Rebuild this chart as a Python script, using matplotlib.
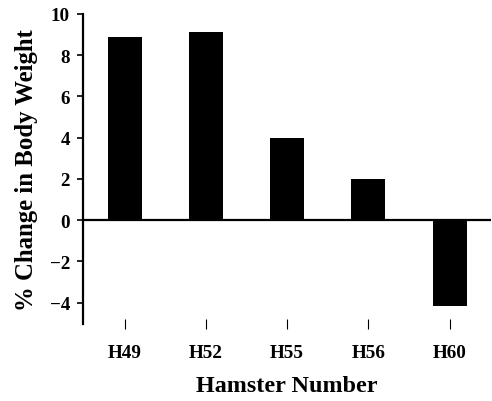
import matplotlib.pyplot as plt
import numpy as np

hamsters = ['H49', 'H52', 'H55', 'H56', 'H60']
pct_change = [8.86, 9.1, 3.98, 2.01, -4.15]

plt.rcParams['font.family'] = ['Liberation Serif', 'DejaVu Serif']
plt.rcParams['font.weight'] = 'bold'

fig = plt.figure(figsize=(4.92, 4.02), dpi=100)
ax = fig.add_axes([0.169, 0.191, 0.829, 0.772])

x = np.arange(len(hamsters))
ax.bar(x, pct_change, width=0.42, color='black')
ax.axhline(0, color='black', linewidth=1.6)

ax.set_xlim(-0.51, len(hamsters) - 0.49)
ax.set_ylim(-5.05, 10)
ax.set_yticks([-4, -2, 0, 2, 4, 6, 8, 10])
ax.set_xticks(x)
ax.set_xticklabels(hamsters)

for s in ['top', 'right', 'bottom']:
    ax.spines[s].set_visible(False)
ax.spines['left'].set_linewidth(1.6)

ax.tick_params(axis='y', direction='out', length=4, width=1.2, labelsize=13.7, pad=5.5)
ax.tick_params(axis='x', direction='inout', length=7, width=0.8, labelsize=13.8, pad=11)

ax.set_ylabel('% Change in Body Weight', fontsize=17.8, fontweight='bold', labelpad=8)
ax.set_xlabel('Hamster Number', fontsize=17.4, fontweight='bold', labelpad=10)

fig.savefig('out.png', dpi=100)
